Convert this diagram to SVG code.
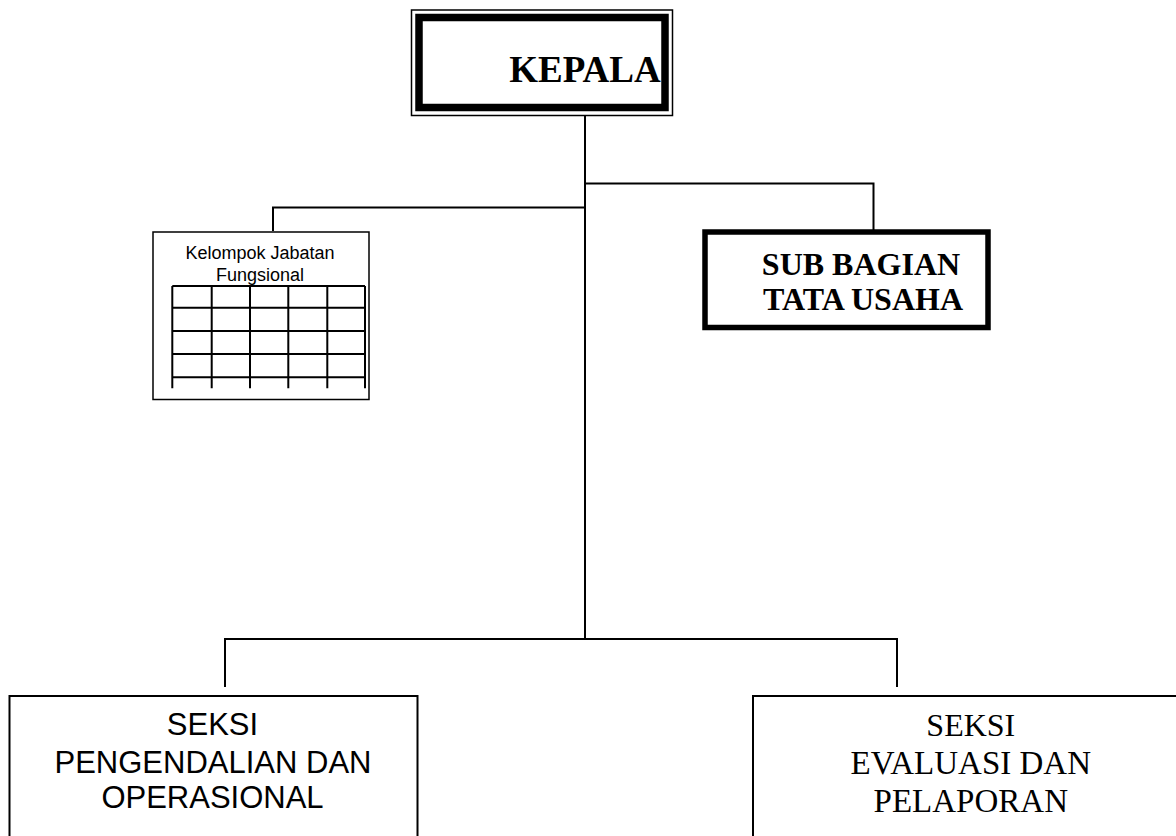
<svg xmlns="http://www.w3.org/2000/svg" width="1176" height="836" viewBox="0 0 1176 836">
<style>
.conn{stroke:#000;stroke-width:2;fill:none}
.box{fill:#fff;stroke:#000}
.serifB{font-family:"Liberation Serif","Times New Roman",serif;font-weight:bold;fill:#000}
.serif{font-family:"Liberation Serif","Times New Roman",serif;fill:#000}
.sans{font-family:"Liberation Sans",Arial,sans-serif;fill:#000}
.grid{stroke:#000;stroke-width:2;fill:none}
</style>
<rect width="1176" height="836" fill="#fff"/>
<g id="connectors">
<path class="conn" d="M585 116 V639"/>
<path class="conn" d="M585 183.5 H873.5 V230"/>
<path class="conn" d="M585 207.5 H273 V231"/>
<path class="conn" d="M225 687 V639 H897 V687"/>
</g>
<g id="kepala">
<rect class="box" x="411.5" y="10" width="261" height="105.5" stroke-width="1.5"/>
<rect x="419" y="17.5" width="246" height="90" fill="none" stroke="#000" stroke-width="7.5"/>
<text class="serifB" x="585" y="82" font-size="37" text-anchor="middle">KEPALA</text>
</g>
<g id="kelompok">
<rect class="box" x="153" y="232" width="216" height="167.5" stroke-width="1.5"/>
<text class="sans" x="260" y="259" font-size="18" text-anchor="middle">Kelompok Jabatan</text>
<text class="sans" x="260" y="280.5" font-size="18" text-anchor="middle">Fungsional</text>
<path class="grid" d="M172.3 286 H365 M172.3 307.7 H365 M172.3 331 H365 M172.3 354 H365 M172.3 377.3 H365 M172.3 286 V388.3 M211.7 286 V388.3 M250 286 V388.3 M288.3 286 V388.3 M327.3 286 V388.3 M365 286 V388.3"/>
</g>
<g id="sub-bagian">
<rect class="box" x="705" y="232" width="283" height="95.5" stroke-width="5.5"/>
<text class="serifB" x="861" y="275" font-size="32" text-anchor="middle">SUB BAGIAN</text>
<text class="serifB" x="863" y="310" font-size="32" text-anchor="middle">TATA USAHA</text>
</g>
<g id="seksi-pengendalian">
<rect class="box" x="9.5" y="696" width="408" height="160" stroke-width="2"/>
<text class="sans" x="212.5" y="735" font-size="31" text-anchor="middle">SEKSI</text>
<text class="sans" x="213" y="772.7" font-size="31" text-anchor="middle">PENGENDALIAN DAN</text>
<text class="sans" x="212.5" y="808.3" font-size="31" text-anchor="middle">OPERASIONAL</text>
</g>
<g id="seksi-evaluasi">
<rect class="box" x="753" y="696" width="460" height="160" stroke-width="2"/>
<text class="serif" x="970.8" y="736" font-size="32" text-anchor="middle">SEKSI</text>
<text class="serif" x="970.8" y="774" font-size="33" text-anchor="middle">EVALUASI DAN</text>
<text class="serif" x="970.8" y="811.7" font-size="33" text-anchor="middle">PELAPORAN</text>
</g>
</svg>
